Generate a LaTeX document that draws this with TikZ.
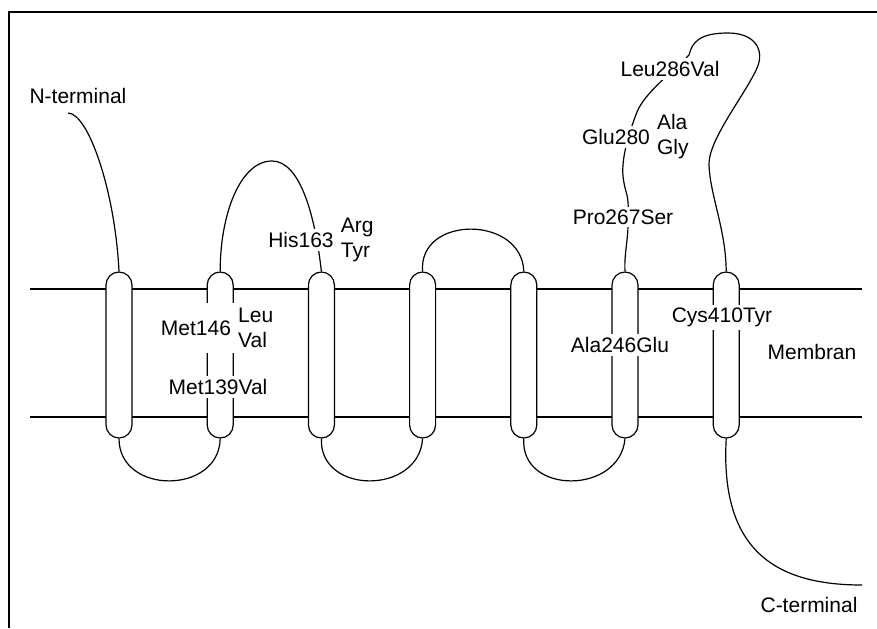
\documentclass[tikz,border=0pt]{standalone}
\usepackage{fontspec}
\setmainfont{Liberation Sans}
\usetikzlibrary{positioning}

\begin{document}
\begin{tikzpicture}[
    x=0.5pt, y=-0.5pt,
    line width=0.6pt,
    node distance=37pt,
    helix/.style={
        rectangle,
        draw,
        fill=white,
        rounded corners=6.5pt,
        minimum width=13pt,
        minimum height=83pt,
        inner sep=0pt
    },
    mutation/.style={
        fill=white,
        inner sep=1.5pt,
        font=\fontsize{10.5}{12.5}\selectfont,
        align=center
    },
    altered/.style={
        mutation,
        align=left
    }
]
\useasboundingbox (0,0) rectangle (877,628);

% frame
\draw[line width=0.8pt] (9,628) -- (9,12) -- (877,12);

% membrane
\draw (30,289) -- (862,289);
\draw (30,417) -- (862,417);

% helices
\node[helix] at (119,355) (h1) {};
\node[helix, right=of h1] (h2) {};
\node[helix, right=of h2] (h3) {};
\node[helix, right=of h3] (h4) {};
\node[helix, right=of h4] (h5) {};
\node[helix, right=of h5] (h6) {};
\node[helix, right=of h6] (h7) {};

\coordinate (nstart) at (68,113);
\coordinate (cend) at (862,585);

% loops
\draw (nstart) .. controls (88,113) and (115,190) .. (h1.north);
\draw (h2.north) .. controls (220,215) and (240,161) .. (272,161)
                 .. controls (300,161) and (315,215) .. (h3.north);
\draw (h4.north) .. controls (418,215) and (522,215) .. (h5.north);
\draw (h6.north) .. controls (624,255) and (628,240) .. (628,225)
                 .. controls (628,212) and (629,205) .. (627,195)
                 .. controls (624,185) and (622,175) .. (623,165)
                 .. controls (624,150) and (630,130) .. (637,112)
                 .. controls (645,92) and (675,70) .. (689,55)
                 .. controls (692,42) and (700,33) .. (728,33)
                 .. controls (755,33) and (765,50) .. (757,68)
                 .. controls (745,95) and (708,140) .. (709,165)
                 .. controls (710,195) and (726,230) .. (h7.north);
\draw (h1.south) .. controls (119,495) and (219,495) .. (h2.south);
\draw (h3.south) .. controls (319,495) and (419,495) .. (h4.south);
\draw (h5.south) .. controls (520,495) and (620,495) .. (h6.south);
\draw (h7.south) .. controls (720,550) and (775,585) .. (cend);

% labels
\node[mutation] at (78,96) (nterm) {N-terminal};
\node[mutation] at (809,605) (cterm) {C-terminal};
\node[mutation] at (812,352) (membran) {Membran};
\node[mutation] at (301,240) (his) {His163};
\node[altered, right=0pt of his] (hisalt) {Arg\\Tyr};
\node[mutation, minimum height=25pt] at (196,328) (met146) {Met146};
\node[altered, right=0pt of met146] (met146alt) {Leu\\Val};
\node[mutation] at (218,387) (met139) {Met139Val};
\node[mutation] at (616,137) (glu) {Glu280};
\node[altered, right=0pt of glu] (glualt) {Ala\\Gly};
\node[mutation] at (623,217) (pro) {Pro267Ser};
\node[mutation] at (670,69) (leu) {Leu286Val};
\node[mutation] at (620,345) (ala) {Ala246Glu};
\node[mutation] at (722,317) (cys) {Cys410Tyr};

\end{tikzpicture}
\end{document}
